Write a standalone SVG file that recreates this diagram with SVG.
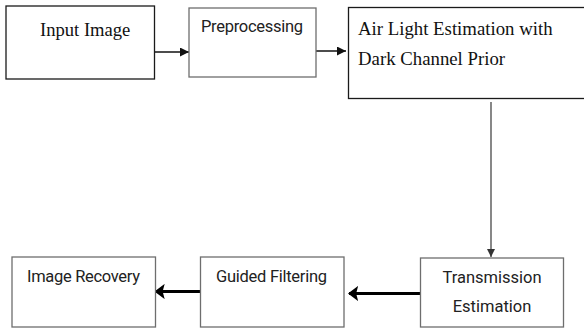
<svg xmlns="http://www.w3.org/2000/svg" width="584" height="329" viewBox="0 0 584 329">
  <defs>
    <style>
      .box-dark { fill: #ffffff; stroke: #1a1a1a; stroke-width: 1.3; }
      .box-gray { fill: #ffffff; stroke: #6e6e6e; stroke-width: 1.3; }
      .serif { font-family: "Liberation Serif", "Times New Roman", serif; fill: #111111; }
      .sans { font-family: Roboto, "Liberation Sans", Arial, sans-serif; fill: #222222; font-size: 16.5px; }
      .thin { stroke: #111111; stroke-width: 1.5; fill: none; }
      .vline { stroke: #6a6a6a; stroke-width: 1.6; fill: none; }
      .thick { stroke: #000000; stroke-width: 3; fill: none; }
    </style>
    <marker id="headSmall" viewBox="0 0 10 10" refX="10" refY="5" markerWidth="7" markerHeight="6" markerUnits="strokeWidth" orient="auto">
      <path d="M0,0 L10,5 L0,10 Z" fill="#111111"/>
    </marker>
    <marker id="headDown" viewBox="0 0 10 10" refX="10" refY="5" markerWidth="6" markerHeight="5" markerUnits="strokeWidth" orient="auto">
      <path d="M0,0 L10,5 L0,10 Z" fill="#333333"/>
    </marker>
    <marker id="headBig" viewBox="0 0 10 15" refX="9" refY="7.5" markerWidth="3.4" markerHeight="5.1" markerUnits="strokeWidth" orient="auto">
      <path d="M0,0 L10,7.5 L0,15 L2,7.5 Z" fill="#000000"/>
    </marker>
  </defs>

  <!-- connectors -->
  <g id="connectors">
    <line class="thin" x1="155" y1="52" x2="189" y2="52" marker-end="url(#headSmall)"/>
    <line class="thin" x1="316" y1="51" x2="346" y2="51" marker-end="url(#headSmall)"/>
    <line class="vline" x1="491" y1="102" x2="491" y2="257" marker-end="url(#headDown)"/>
    <line class="thick" x1="420" y1="293.5" x2="349" y2="293.5" marker-end="url(#headBig)"/>
    <line class="thick" x1="200" y1="291.5" x2="155.5" y2="291.5" marker-end="url(#headBig)"/>
  </g>

  <!-- nodes -->
  <g id="input-image">
    <rect class="box-dark" x="6" y="6" width="148.5" height="73"/>
    <text class="serif" x="40" y="36" font-size="18.6">Input Image</text>
  </g>

  <g id="preprocessing">
    <rect class="box-gray" x="189" y="8" width="127" height="69"/>
    <text class="sans" x="201" y="32" textLength="102">Preprocessing</text>
  </g>

  <g id="air-light">
    <rect class="box-dark" x="348.5" y="7.5" width="240" height="91"/>
    <text class="serif" x="358" y="35" font-size="18.8">Air Light Estimation with</text>
    <text class="serif" x="358" y="65" font-size="18.8">Dark Channel Prior</text>
  </g>

  <g id="transmission">
    <rect class="box-gray" x="420.5" y="258" width="143" height="69"/>
    <text class="sans" x="492" y="283" text-anchor="middle">Transmission</text>
    <text class="sans" x="492" y="311.5" text-anchor="middle">Estimation</text>
  </g>

  <g id="guided-filtering">
    <rect class="box-gray" x="200.5" y="257" width="143.5" height="70"/>
    <text class="sans" x="216" y="282" textLength="111">Guided Filtering</text>
  </g>

  <g id="image-recovery">
    <rect class="box-gray" x="12" y="257" width="143.5" height="70"/>
    <text class="sans" x="27" y="282" textLength="113">Image Recovery</text>
  </g>
</svg>
